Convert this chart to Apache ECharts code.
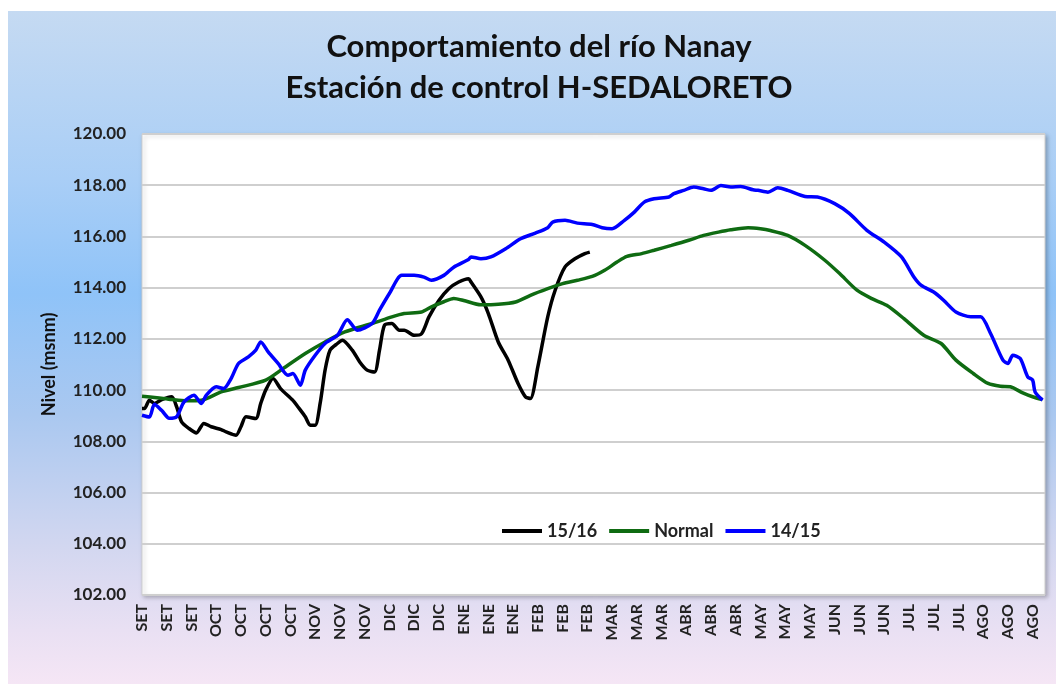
<!DOCTYPE html>
<html>
<head>
<meta charset="utf-8">
<script src="https://cdn.jsdelivr.net/npm/echarts@6/dist/echarts.min.js"></script>
<style>
  html, body { margin: 0; padding: 0; background: #fff; }
  #chart { width: 1056px; height: 684px; }
</style>
</head>
<body>
<div id="chart"></div>
<script>
  // etiquetas del eje X: una cada 10 días desde el 1 de setiembre
  const tickLabels = ['SET', 'SET', 'SET', 'OCT', 'OCT', 'OCT', 'OCT', 'NOV', 'NOV', 'NOV',
    'DIC', 'DIC', 'DIC', 'ENE', 'ENE', 'ENE', 'FEB', 'FEB', 'FEB', 'MAR', 'MAR', 'MAR',
    'ABR', 'ABR', 'ABR', 'MAY', 'MAY', 'MAY', 'JUN', 'JUN', 'JUN', 'JUL', 'JUL', 'JUL',
    'AGO', 'AGO', 'AGO']

  // 15/16 (día desde el 1 de setiembre, nivel msnm)
  const days1516 = [0, 1, 3, 5, 8, 12, 14, 16, 19, 22, 25, 28, 32, 34, 38, 40, 42, 46, 48, 50,
    53, 56, 61, 63, 66, 68, 70, 72, 74, 76, 79, 81, 85, 88, 91, 94, 96, 98, 101, 104, 106, 110,
    113, 116, 120, 124, 128, 132, 133, 137, 140, 144, 148, 152, 155, 157, 160, 164, 167, 171,
    175, 179, 181]
  const levels1516 = [109.28, 109.28, 109.6, 109.48, 109.63, 109.74, 109.35, 108.76, 108.5,
    108.33, 108.7, 108.57, 108.46, 108.37, 108.24, 108.57, 108.96, 108.89, 109.48, 110.0,
    110.45, 110.06, 109.6, 109.35, 108.96, 108.63, 108.63, 109.48, 110.78, 111.56, 111.82,
    111.95, 111.56, 111.1, 110.78, 110.71, 111.56, 112.53, 112.6, 112.34, 112.34, 112.14,
    112.2, 112.86, 113.5, 113.96, 114.22, 114.35, 114.22, 113.64, 112.99, 111.88, 111.17,
    110.26, 109.74, 109.67, 110.91, 112.86, 113.9, 114.81, 115.13, 115.33, 115.39]

  // Normal
  const daysNormal = [0, 6, 12, 18, 24, 32, 39, 50, 57, 66, 74, 82, 93, 101, 106, 113, 117,
    122, 126, 130, 137, 144, 151, 157, 164, 170, 176, 182, 187, 192, 196, 202, 207, 214, 221,
    227, 233, 238, 245, 250, 254, 261, 268, 276, 282, 289, 295, 301, 308, 316, 323, 329, 336,
    342, 347, 351, 356, 360, 364]
  const levelsNormal = [109.76, 109.7, 109.63, 109.58, 109.6, 109.93, 110.1, 110.39, 110.84,
    111.43, 111.88, 112.27, 112.6, 112.86, 112.99, 113.05, 113.25, 113.45, 113.58, 113.5,
    113.33, 113.35, 113.44, 113.7, 113.96, 114.16, 114.29, 114.44, 114.68, 115.0, 115.22,
    115.33, 115.46, 115.65, 115.85, 116.04, 116.17, 116.26, 116.34, 116.3, 116.23, 116.04,
    115.65, 115.07, 114.55, 113.9, 113.57, 113.31, 112.79, 112.14, 111.82, 111.17, 110.65,
    110.26, 110.15, 110.13, 109.89, 109.74, 109.63]

  // 14/15
  const days1415 = [0, 3, 5, 8, 11, 14, 17, 21, 24, 26, 30, 33, 36, 39, 43, 46, 48, 51, 55,
    59, 61, 64, 66, 70, 74, 79, 83, 87, 93, 96, 100, 105, 110, 114, 117, 122, 126, 132, 133,
    137, 141, 147, 153, 159, 164, 166, 171, 176, 182, 186, 190, 195, 199, 203, 207, 213, 215,
    219, 223, 227, 230, 234, 238, 242, 247, 249, 253, 257, 261, 268, 273, 280, 286, 293, 300,
    307, 312, 315, 320, 324, 329, 335, 339, 343, 348, 350, 352, 355, 358, 360, 361, 364]
  const levels1415 = [109.02, 108.95, 109.45, 109.2, 108.9, 108.96, 109.54, 109.8, 109.48,
    109.8, 110.13, 110.06, 110.45, 111.04, 111.3, 111.56, 111.88, 111.49, 111.04, 110.58,
    110.65, 110.19, 110.78, 111.36, 111.82, 112.14, 112.75, 112.34, 112.6, 113.12, 113.77,
    114.48, 114.48, 114.41, 114.29, 114.48, 114.8, 115.1, 115.2, 115.13, 115.2, 115.52,
    115.91, 116.13, 116.34, 116.56, 116.63, 116.52, 116.47, 116.34, 116.3, 116.63, 116.95,
    117.34, 117.47, 117.54, 117.67, 117.8, 117.93, 117.86, 117.8, 117.99, 117.93, 117.95,
    117.82, 117.8, 117.73, 117.9, 117.8, 117.56, 117.54, 117.28, 116.89, 116.24, 115.78,
    115.2, 114.42, 114.09, 113.83, 113.51, 113.05, 112.86, 112.86, 112.21, 111.17, 111.04,
    111.36, 111.23, 110.52, 110.39, 109.93, 109.61]

  const pairs = (xs, ys) => xs.map((d, i) => [d, ys[i]])

  const font = 'Lato, "Open Sans", sans-serif'
  const chart = echarts.init(document.getElementById('chart'))

  chart.setOption({
    backgroundColor: '#fff',
    animation: false,
    textStyle: { fontFamily: font },
    graphic: [
      {
        type: 'rect',
        left: 8,
        top: 11,
        z: -10,
        shape: { width: 1048, height: 673 },
        style: {
          fill: new echarts.graphic.LinearGradient(0, 0, 0, 1, [
            { offset: 0, color: '#c5daf2' },
            { offset: 0.25, color: '#a9cef6' },
            { offset: 0.42, color: '#8fc3f8' },
            { offset: 0.6, color: '#aac8f0' },
            { offset: 0.8, color: '#d3d7f0' },
            { offset: 0.92, color: '#e9e0f3' },
            { offset: 1, color: '#f5e6f5' },
          ]),
        },
      },
    ],
    title: {
      text: 'Comportamiento del río Nanay\nEstación de control H-SEDALORETO',
      left: 534,
      textAlign: 'center',
      top: 21,
      textStyle: {
        fontFamily: font,
        fontWeight: 'bold',
        fontSize: 31,
        lineHeight: 41,
        color: '#111',
      },
    },
    legend: {
      left: 497,
      top: 517,
      icon: 'rect',
      itemWidth: 40,
      itemHeight: 4,
      itemGap: 12,
      textStyle: { fontFamily: font, fontWeight: 'bold', fontSize: 18, color: '#222' },
      data: ['15/16', 'Normal', '14/15'],
    },
    grid: {
      left: 142,
      right: 11,
      top: 134,
      bottom: 89,
      show: true,
      backgroundColor: '#fff',
      borderColor: '#cfcfcf',
      borderWidth: 1,
      shadowColor: 'rgba(0,0,0,0.25)',
      shadowBlur: 4,
      shadowOffsetX: 2,
      shadowOffsetY: 2,
    },
    xAxis: {
      type: 'value',
      min: 0,
      max: 365,
      interval: 10,
      axisLine: { show: false },
      axisTick: { show: false },
      splitLine: { show: false },
      axisLabel: {
        rotate: 90,
        margin: 9,
        fontFamily: font,
        fontWeight: 'bold',
        fontSize: 16,
        color: '#222',
        showMaxLabel: false,
        formatter: v => tickLabels[v / 10] || '',
      },
    },
    yAxis: {
      type: 'value',
      min: 102,
      max: 120,
      interval: 2,
      name: 'Nivel (msnm)',
      nameLocation: 'middle',
      nameGap: 84,
      nameTextStyle: { fontFamily: font, fontWeight: 'bold', fontSize: 18, color: '#111' },
      axisLine: { show: false },
      axisTick: { show: false },
      axisLabel: {
        margin: 16,
        fontFamily: font,
        fontWeight: 'bold',
        fontSize: 17,
        color: '#222',
        formatter: v => v.toFixed(2),
      },
      splitLine: { lineStyle: { color: '#cfcfcf', width: 2 } },
    },
    series: [
      {
        name: '15/16',
        type: 'line',
        symbol: 'none',
        smooth: 0.25,
        lineStyle: { color: '#000', width: 3.5 },
        itemStyle: { color: '#000' },
        data: pairs(days1516, levels1516),
      },
      {
        name: 'Normal',
        type: 'line',
        symbol: 'none',
        smooth: 0.25,
        lineStyle: { color: '#0f6b12', width: 3.5 },
        itemStyle: { color: '#0f6b12' },
        data: pairs(daysNormal, levelsNormal),
      },
      {
        name: '14/15',
        type: 'line',
        symbol: 'none',
        smooth: 0.25,
        lineStyle: { color: '#0000ff', width: 3.5 },
        itemStyle: { color: '#0000ff' },
        data: pairs(days1415, levels1415),
      },
    ],
  })
</script>
</body>
</html>
